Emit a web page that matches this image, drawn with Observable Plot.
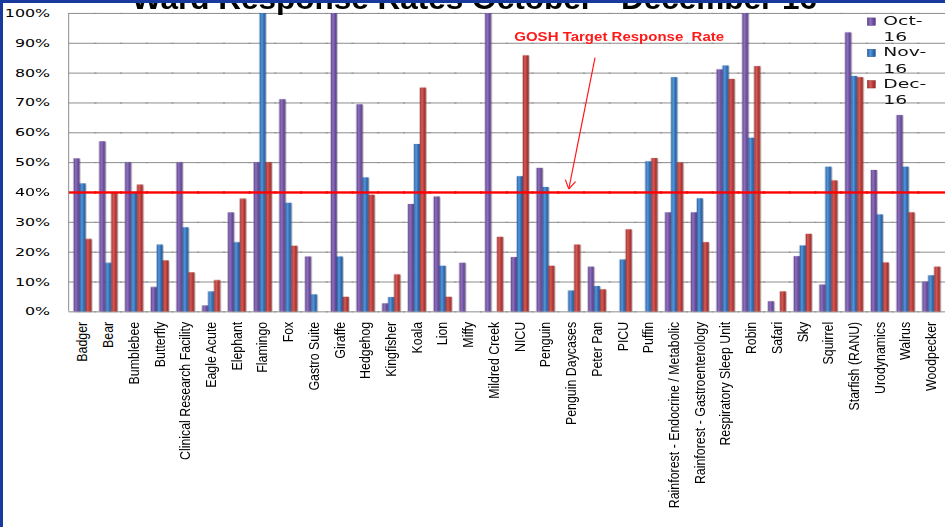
<!DOCTYPE html>
<html>
<head>
<meta charset="utf-8">
<script src="https://cdn.jsdelivr.net/npm/d3@7"></script>
<script src="https://cdn.jsdelivr.net/npm/@observablehq/plot@0.6"></script>
<style>
  html, body { margin: 0; padding: 0; background: #fff; overflow: hidden; }
  #slide { position: relative; width: 945px; height: 527px; overflow: hidden; background: #fff; }
  #slide svg { display: block; }
  .edge-top { position: absolute; left: 0; top: 0; width: 945px; height: 3px; background: #173a9c; }
  .edge-left { position: absolute; left: 0; top: 0; width: 3px; height: 527px; background: #173a9c; }
</style>
</head>
<body>
<div id="slide"></div>
<script>
// Ward response rates, October to December 2016 (percent)
const wards = [
  "Badger", "Bear", "Bumblebee", "Butterfly", "Clinical Research Facility", "Eagle Acute",
  "Elephant", "Flamingo", "Fox", "Gastro Suite", "Giraffe", "Hedgehog", "Kingfisher", "Koala",
  "Lion", "Miffy", "Mildred Creek", "NICU", "Penguin", "Penguin Daycases", "Peter Pan", "PICU",
  "Puffin", "Rainforest - Endocrine / Metabolic", "Rainforest - Gastroenterology",
  "Respiratory Sleep Unit", "Robin", "Safari", "Sky", "Squirrel", "Starfish (RANU)",
  "Urodynamics", "Walrus", "Woodpecker"
];
const months = ["Oct-16", "Nov-16", "Dec-16"];
const oct16 = [51.3, 57, 50, 8.2, 50, 2, 33.2, 50, 71.1, 18.4, 100, 69.4, 2.7, 36, 38.5, 16.3, 100, 18.2, 48.1, 0, 15, 0, 0, 33.2, 33.2, 81.1, 100, 3.4, 18.5, 9, 93.5, 47.4, 65.8, 10];
const nov16 = [42.9, 16.3, 40, 22.4, 28.2, 6.7, 23.2, 100, 36.4, 5.7, 18.4, 44.9, 4.8, 56.1, 15.3, 0, 0, 45.3, 41.7, 7, 8.5, 17.4, 50.3, 78.5, 37.9, 82.4, 58.2, 0, 22.1, 48.5, 78.9, 32.5, 48.5, 12.1];
const dec16 = [24.3, 40, 42.5, 17.1, 13.1, 10.5, 37.8, 50, 22, 0, 4.9, 39.1, 12.4, 75, 4.9, 0, 25, 85.8, 15.3, 22.4, 7.4, 27.5, 51.4, 49.9, 23.2, 77.9, 82.2, 6.7, 26, 43.9, 78.5, 16.4, 33.2, 15];
const yTicks = [0, 10, 20, 30, 40, 50, 60, 70, 80, 90, 100];
const target = 40;
const titleText = "Ward Response Rates October - December 16";
const targetLabel = "GOSH Target Response  Rate";

// Cylinder-style shading for each month: [edge, highlight, body]
const shades = [
  ["#553a80", "#9175bf", "#7455a5"],
  ["#24558f", "#5a9be0", "#3474bd"],
  ["#902929", "#d8605a", "#bc3d3a"]
];

const rows = wards.flatMap((ward, i) => [
  {ward, month: months[0], rate: oct16[i]},
  {ward, month: months[1], rate: nov16[i]},
  {ward, month: months[2], rate: dec16[i]}
]);

const chart = Plot.plot({
  width: 950,
  height: 527,
  marginLeft: 69,
  marginRight: 0,
  marginTop: 13,
  marginBottom: 214,
  style: {background: "transparent", overflow: "visible", color: "#000"},
  fx: {domain: wards, paddingInner: 0.303, paddingOuter: 0.19, round: false, label: null},
  x: {domain: months, padding: 0, round: false, axis: null},
  y: {domain: [0, 100]},
  color: {domain: months, range: months.map((m, i) => `url(#bar-shade-${i})`)},
  marks: [
    Plot.ruleY(yTicks, {stroke: "#8c8c8c", strokeWidth: 1, insetLeft: -5, insetRight: -5}),
    Plot.barY(rows, {fx: "ward", x: "month", y: "rate", fill: "month", inset: 0}),
    Plot.ruleY([target], {stroke: "#ff0000", strokeWidth: 2.4, insetLeft: -5, insetRight: -5}),
    Plot.axisY({
      ticks: yTicks, tickFormat: d => d + "%", tickSize: 0, tickPadding: 24,
      fontSize: 11, fontFamily: "DejaVu Sans", fill: "#000", label: null
    }),
    Plot.axisFx({
      anchor: "bottom", tickSize: 0, tickPadding: 10, tickRotate: -90,
      fontSize: 14, fontFamily: "'Liberation Sans', Arial, sans-serif",
      fill: "#000", label: null
    })
  ]
});

const svg = d3.select(chart);
const yScale = chart.scale("y");
const fxScale = chart.scale("fx");

// gradients and soft shadow for the bars
const defs = svg.insert("defs", ":first-child");
shades.forEach(([edge, hi, body], i) => {
  const g = defs.append("linearGradient").attr("id", `bar-shade-${i}`)
    .attr("x1", 0).attr("x2", 1).attr("y1", 0).attr("y2", 0);
  g.append("stop").attr("offset", "0%").attr("stop-color", edge);
  g.append("stop").attr("offset", "35%").attr("stop-color", hi);
  g.append("stop").attr("offset", "65%").attr("stop-color", body);
  g.append("stop").attr("offset", "100%").attr("stop-color", edge);
});
defs.append("filter").attr("id", "bar-shadow")
  .attr("x", "-60%").attr("y", "-5%").attr("width", "220%").attr("height", "110%")
  .append("feDropShadow").attr("dx", 1).attr("dy", 0.5).attr("stdDeviation", 0.8)
  .attr("flood-color", "#000").attr("flood-opacity", 0.28);
svg.selectAll('g[aria-label="bar"]').attr("filter", "url(#bar-shadow)");

const slide = document.getElementById("slide");
slide.append(chart);

// adjust letter widths: wide value labels, condensed ward names
const stretch = (sel, k) => sel.each(function () {
  const len = this.getComputedTextLength();
  this.setAttribute("textLength", (len * k).toFixed(1));
  this.setAttribute("lengthAdjust", "spacingAndGlyphs");
});
stretch(svg.selectAll('g[aria-label="y-axis tick label"] text'), 1.45);
stretch(svg.selectAll('g[aria-label="fx-axis tick label"] text'), 0.89);

// value axis line
svg.append("line")
  .attr("x1", 69).attr("x2", 69).attr("y1", yScale.apply(100)).attr("y2", yScale.apply(0))
  .attr("stroke", "#8c8c8c").attr("stroke-width", 1);

// title (partly hidden under the slide edge)
svg.append("text")
  .attr("x", 477).attr("y", 9).attr("text-anchor", "middle")
  .attr("font-family", "'Liberation Sans', Arial, sans-serif").attr("font-weight", "bold")
  .attr("font-size", 30).attr("fill", "#000")
  .attr("textLength", 689).attr("lengthAdjust", "spacingAndGlyphs")
  .text(titleText);

// target annotation with arrow
const bw = fxScale.bandwidth;
const tipX = fxScale.apply("Penguin Daycases") + 0.37 * bw;
const tipY = yScale.apply(41);
const startX = fxScale.apply("Peter Pan") + 0.4 * bw;
const startY = yScale.apply(85);
const ann = svg.append("g").attr("fill", "none").attr("stroke", "#ff1a1a").attr("stroke-width", 1.2);
ann.append("line").attr("x1", startX).attr("y1", startY).attr("x2", tipX).attr("y2", tipY);
const ang = Math.atan2(tipY - startY, tipX - startX);
[-0.55, 0.55].forEach(a => {
  ann.append("line")
    .attr("x1", tipX).attr("y1", tipY)
    .attr("x2", tipX - 10 * Math.cos(ang + a)).attr("y2", tipY - 10 * Math.sin(ang + a));
});
svg.append("text")
  .attr("x", 517).attr("y", yScale.apply(90.6)).attr("text-anchor", "start")
  .attr("font-family", "'Liberation Sans', Arial, sans-serif").attr("font-weight", "bold")
  .attr("font-size", 12).attr("fill", "#ff1a1a")
  .attr("textLength", 211).attr("lengthAdjust", "spacingAndGlyphs")
  .text(targetLabel);

// legend, wrapped onto two lines per entry
const legend = svg.append("g").attr("text-anchor", "start")
  .attr("font-family", "DejaVu Sans").attr("font-size", 13).attr("fill", "#111");
months.forEach((m, i) => {
  const base = 25 + i * 31.5;
  const [first, second] = m.split("-");
  legend.append("rect")
    .attr("x", 872).attr("y", base - 7).attr("width", 8).attr("height", 7.5)
    .attr("fill", `url(#bar-shade-${i})`).attr("stroke", shades[i][0]).attr("stroke-width", 0.5);
  legend.append("text").attr("x", 888).attr("y", base).text(first + "-");
  legend.append("text").attr("x", 888).attr("y", base + 16.5).text(second);
});
stretch(legend.selectAll("text"), 1.45);

const edgeTop = document.createElement("div"); edgeTop.className = "edge-top"; slide.append(edgeTop);
const edgeLeft = document.createElement("div"); edgeLeft.className = "edge-left"; slide.append(edgeLeft);
</script>
</body>
</html>
